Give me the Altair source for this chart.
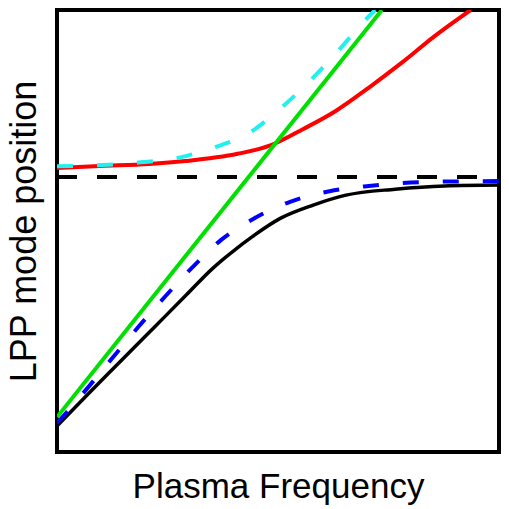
import altair as alt
import pandas as pd

# Values (x, y in 0..100 of the frame)
green_x = [0.0, 73.5]
green_y = [7.9, 100.0]

red_x = [0.0, 9.65, 20.8, 29.05, 40.86, 48.28, 55.73, 63.15, 70.58, 78.02, 85.44, 93.6]
red_y = [64.25, 64.7, 65.15, 65.82, 67.46, 69.35, 73.08, 77.22, 82.46, 88.08, 94.09, 100.0]

cyan_x = [0.0, 17.01, 28.15, 35.73, 43.09, 51.27, 57.96, 63.89, 69.84, 72.0]
cyan_y = [64.63, 65.37, 66.72, 68.97, 71.96, 78.35, 84.71, 91.07, 97.82, 100.0]

blue_x = [0.0, 7.04, 12.62, 18.57, 24.52, 30.45, 37.14, 44.58, 52.74, 61.66, 70.58, 83.88, 100.0]
blue_y = [6.5, 14.62, 21.36, 28.49, 35.24, 41.6, 47.99, 52.84, 56.6, 59.01, 60.2, 61.1, 61.3]

black_x = [0.0, 7.04, 14.49, 21.91, 29.34, 35.29, 39.75, 44.2, 50.51, 57.96, 65.38, 76.53, 87.67, 100.0]
black_y = [5.9, 13.13, 20.62, 28.11, 35.62, 41.6, 45.36, 48.73, 52.85, 55.86, 58.11, 59.46, 60.2, 60.4]

asym_x = [0.0, 100.0]
asym_y = [62.2, 62.2]

xscale = alt.Scale(domain=[0, 100], nice=False, zero=False)
yscale = alt.Scale(domain=[0, 100], nice=False, zero=False)

xaxis = alt.Axis(title="Plasma Frequency", labels=False, ticks=False, grid=False, domain=False,
                 titleFontSize=35, titleFont="Liberation Sans", titleFontWeight="normal",
                 titleColor="black", titleBaseline="alphabetic", titleY=45)
yaxis = alt.Axis(title="LPP mode position", labels=False, ticks=False, grid=False, domain=False,
                 titleFontSize=36, titleFont="Liberation Sans", titleFontWeight="normal",
                 titleColor="black", titleBaseline="alphabetic", titleX=-22, titleAngle=270)


def line(xs, ys, color, width, dash=None, interp="monotone"):
    df = pd.DataFrame({"x": xs, "y": ys})
    kw = dict(color=color, strokeWidth=width, interpolate=interp, clip=True)
    if dash:
        kw["strokeDash"] = dash
        kw["strokeCap"] = "butt"
    return alt.Chart(df).mark_line(**kw).encode(
        x=alt.X("x:Q", scale=xscale, axis=xaxis),
        y=alt.Y("y:Q", scale=yscale, axis=yaxis),
    )


chart = alt.layer(
    line(asym_x, asym_y, "black", 4, dash=[20, 20], interp="linear"),
    line(black_x, black_y, "black", 3.5),
    line(blue_x, blue_y, "#0000ff", 4, dash=[16, 24]),
    line(red_x, red_y, "#ff0000", 4),
    line(cyan_x, cyan_y, "#20f0f0", 4, dash=[16, 24]),
    line(green_x, green_y, "#00e000", 4, interp="linear"),
).properties(
    width=442,
    height=442,
    autosize=alt.AutoSizeParams(type="none"),
    padding={"left": 49, "top": 2, "right": 2, "bottom": 55},
).configure(
    background="white"
).configure_view(
    stroke="black", strokeWidth=4, fill="white"
)

chart.save("out.html", embed_options={"renderer": "svg", "actions": False})
